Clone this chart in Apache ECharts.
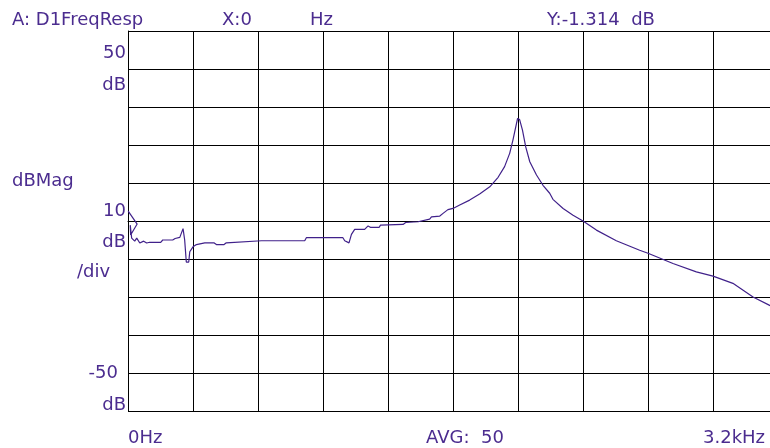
<!DOCTYPE html>
<html>
<head>
<meta charset="utf-8">
<script src="https://cdn.jsdelivr.net/npm/echarts@6/dist/echarts.min.js"></script>
<style>
html,body{margin:0;padding:0;background:#fff;overflow:hidden;}
#c{width:780px;height:448px;}
</style>
</head>
<body>
<div id="c"></div>
<script>
// Frequency (Hz) and magnitude (dB)
const freqHz = [1,45,13,11,18,33,43,58,77,92,107,161,171,220,232,255,271,279,287,299,304,320,337,378,423,435,473,484,657,870,878,1058,1067,1088,1100,1116,1165,1182,1195,1236,1243,1354,1367,1428,1436,1485,1494,1535,1551,1575,1600,1633,1682,1731,1781,1822,1854,1879,1895,1909,1918,1928,1942,1958,1978,2011,2043,2076,2092,2142,2191,2240,2306,2404,2519,2560,2683,2798,2880,2978,3077,3159,3200];
const magDb  = [2.6,-0.8,-3.7,-1.1,-4.5,-5.3,-4.5,-5.8,-5.3,-5.8,-5.6,-5.6,-5.0,-5.0,-4.6,-4.3,-2.0,-5.0,-10.8,-10.8,-8.1,-6.8,-6.2,-5.75,-5.75,-6.2,-6.2,-5.75,-5.2,-5.2,-4.4,-4.4,-5.2,-5.75,-3.5,-2.2,-2.2,-1.3,-1.7,-1.7,-1.1,-0.9,-0.4,-0.2,0.3,0.5,1.1,1.3,2.0,3.0,3.3,4.2,5.5,7.1,9.0,11.5,14.3,17.8,21.3,24.8,27.0,26.7,23.9,19.5,15.6,12.1,9.4,7.3,5.7,3.3,1.5,0.0,-2.4,-5.2,-7.7,-8.5,-11.2,-13.4,-14.5,-16.4,-20.0,-22.2,-23.2];

const xMin = 0, xMax = 3200, xStep = 320;
const yMin = -50, yMax = 50, yStep = 10;

const header = [
  {text: 'A: D1FreqResp', x: 12, y: 20, align: 'left'},
  {text: 'X:0', x: 222, y: 20, align: 'left'},
  {text: 'Hz', x: 310, y: 20, align: 'left'},
  {text: 'Y:-1.314  dB', x: 547, y: 20, align: 'left'}
];
const sideLabels = [
  {text: '50', x: 126, y: 53, align: 'right'},
  {text: 'dB', x: 126, y: 85, align: 'right'},
  {text: 'dBMag', x: 12, y: 181, align: 'left'},
  {text: '10', x: 126, y: 211, align: 'right'},
  {text: 'dB', x: 126, y: 242, align: 'right'},
  {text: '/div', x: 77, y: 272, align: 'left'},
  {text: '-50', x: 118, y: 373, align: 'right'},
  {text: 'dB', x: 126, y: 405, align: 'right'}
];
const footer = [
  {text: '0Hz', x: 128, y: 438, align: 'left'},
  {text: 'AVG:  50', x: 426, y: 438, align: 'left'},
  {text: '3.2kHz', x: 703, y: 438, align: 'left'}
];

const textColor = '#4b2c8f';
const lineColor = '#40218a';

const data = freqHz.map((f, i) => [f, magDb[i]]);

const texts = header.concat(sideLabels, footer).map(t => ({
  type: 'text',
  x: t.x,
  y: t.y,
  style: {
    text: t.text,
    fill: textColor,
    font: '18px "DejaVu Sans"',
    textAlign: t.align,
    textVerticalAlign: 'middle'
  }
}));

const chart = echarts.init(document.getElementById('c'));
chart.setOption({
  animation: false,
  backgroundColor: '#fff',
  grid: {left: 128, top: 31, width: 650, height: 380},
  xAxis: {
    type: 'value', min: xMin, max: xMax, interval: xStep,
    axisLine: {show: true, lineStyle: {color: '#000', width: 1}},
    axisTick: {show: false}, axisLabel: {show: false},
    splitLine: {show: true, lineStyle: {color: '#000', width: 1}}
  },
  yAxis: {
    type: 'value', min: yMin, max: yMax, interval: yStep,
    axisLine: {show: true, lineStyle: {color: '#000', width: 1}},
    axisTick: {show: false}, axisLabel: {show: false},
    splitLine: {show: true, lineStyle: {color: '#000', width: 1}}
  },
  series: [{
    type: 'line', data: data, showSymbol: false, symbol: 'none',
    lineStyle: {color: lineColor, width: 1.2}, z: 5
  }],
  graphic: texts
});
</script>
</body>
</html>
